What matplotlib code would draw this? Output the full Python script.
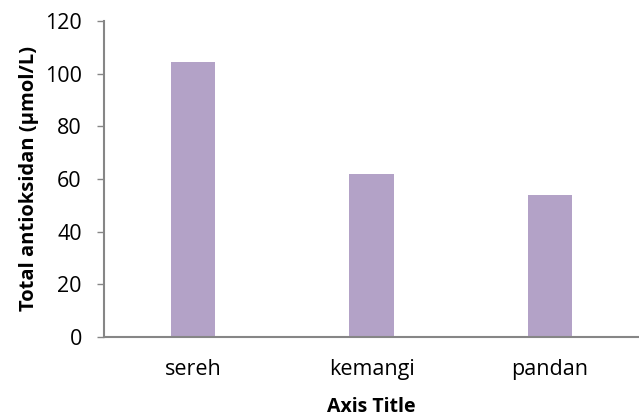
import matplotlib
matplotlib.use("Agg")
import matplotlib.pyplot as plt
import numpy as np

# plant extracts and their total antioxidant
categories = ["sereh", "kemangi", "pandan"]
antioxidant = [104.6, 61.9, 53.8]
yticks = [0, 20, 40, 60, 80, 100, 120]

plt.rcParams['font.family'] = ['Open Sans', 'DejaVu Sans']

fig = plt.figure(figsize=(6.39, 4.16), dpi=100)
ax = fig.add_axes([0.1628, 0.19, 0.8372, 0.7595])

x = np.arange(len(categories))
ax.bar(x, antioxidant, width=0.25, color="#B3A2C7")

ax.set_xlim(-0.5, len(categories) - 0.5)
ax.set_ylim(0, 120)
ax.set_yticks(yticks)
ax.set_xticks(x)
ax.set_xticklabels(categories)

gray = "#868686"
for s in ["top", "right"]:
    ax.spines[s].set_visible(False)
for s in ["left", "bottom"]:
    ax.spines[s].set_color(gray)
    ax.spines[s].set_linewidth(1.5)
ax.tick_params(axis="y", direction="out", length=5, color=gray, width=1, labelsize=15.5, pad=11)
ax.tick_params(axis="x", length=0, labelsize=15.5, pad=16)

ax.set_xlabel("Axis Title", fontsize=14, fontweight="bold", labelpad=12)
ax.set_ylabel("Total antioksidan (µmol/L)", fontsize=14.5, fontweight="bold", labelpad=4)

fig.savefig("out.png", dpi=100)
